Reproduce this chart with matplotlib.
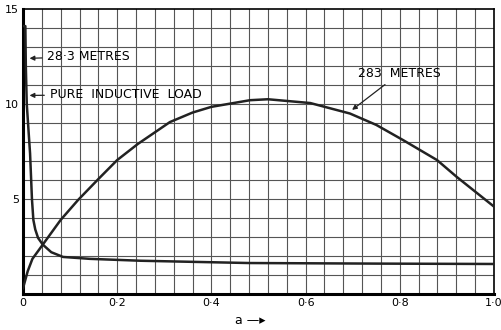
import matplotlib
matplotlib.use("Agg")
import matplotlib.pyplot as plt

# 283 metres curve
a_283 = [0, 0.01, 0.02, 0.042, 0.08, 0.117, 0.16, 0.2, 0.244, 0.312, 0.36, 0.4,
         0.482, 0.52, 0.61, 0.694, 0.75, 0.807, 0.879, 0.921, 1.0]
y_283 = [0.3, 1.2, 1.85, 2.6, 3.9, 4.95, 6.05, 7.05, 7.9, 9.05, 9.55, 9.85,
         10.2, 10.25, 10.05, 9.5, 8.9, 8.1, 7.05, 6.16, 4.6]

# 28.3 metres / pure inductive load curve
a_ind = [0, 0.005, 0.006, 0.008, 0.012, 0.015, 0.017, 0.019, 0.022, 0.026,
         0.032, 0.042, 0.06, 0.085, 0.142, 0.25, 0.48, 0.75, 1.0]
y_ind = [14.1, 14.1, 12.0, 10.0, 8.5, 7.4, 6.2, 5.0, 3.9, 3.4,
         2.95, 2.6, 2.2, 1.95, 1.85, 1.75, 1.63, 1.6, 1.58]

x_ticks = [0, 0.2, 0.4, 0.6, 0.8, 1.0]
x_tick_labels = ['0', '0·2', '0·4', '0·6', '0·8', '1·0']
y_ticks = [5, 10, 15]
y_tick_labels = ['5', '10', '15']

plt.rcParams['font.family'] = ['DejaVu Sans']

fig = plt.figure(figsize=(5.01, 3.30), dpi=100)
ax = fig.add_axes([23 / 501, 36 / 330, 471 / 501, 285 / 330])

# grid every 0.04 in a and every 1 unit in y
for i in range(1, 25):
    ax.axvline(i * 0.04, color='#555555', linewidth=0.8, zorder=1)
for j in range(1, 15):
    ax.axhline(j, color='#555555', linewidth=0.8, zorder=1)

ax.plot(a_283, y_283, color='#222222', linewidth=1.8, zorder=3)
ax.plot(a_ind, y_ind, color='#222222', linewidth=1.8, zorder=3)

ax.set_xlim(0, 1.0)
ax.set_ylim(0, 15)
ax.set_xticks(x_ticks)
ax.set_xticklabels(x_tick_labels, fontsize=8)
ax.set_yticks(y_ticks)
ax.set_yticklabels(y_tick_labels, fontsize=8)
ax.tick_params(length=0, pad=3)
for side in ['left', 'bottom']:
    ax.spines[side].set_linewidth(2.2)
for side in ['top', 'right']:
    ax.spines[side].set_linewidth(1.2)

arrow = dict(arrowstyle='-|>', color='#222222', linewidth=0.9, mutation_scale=7)
ax.annotate('28·3 METRES', xy=(0.008, 12.4), xytext=(0.052, 12.5),
            fontsize=9, va='center', arrowprops=arrow)
ax.annotate('PURE  INDUCTIVE  LOAD', xy=(0.008, 10.45), xytext=(0.057, 10.5),
            fontsize=9, va='center', arrowprops=arrow)
ax.annotate('283  METRES', xy=(0.694, 9.6), xytext=(0.711, 11.6),
            fontsize=9, va='center', arrowprops=arrow)

fig.text(0.5, 0.03, 'a \u2014\u25b8', fontsize=9, ha='center', va='center')

fig.savefig('out.png', dpi=100)
